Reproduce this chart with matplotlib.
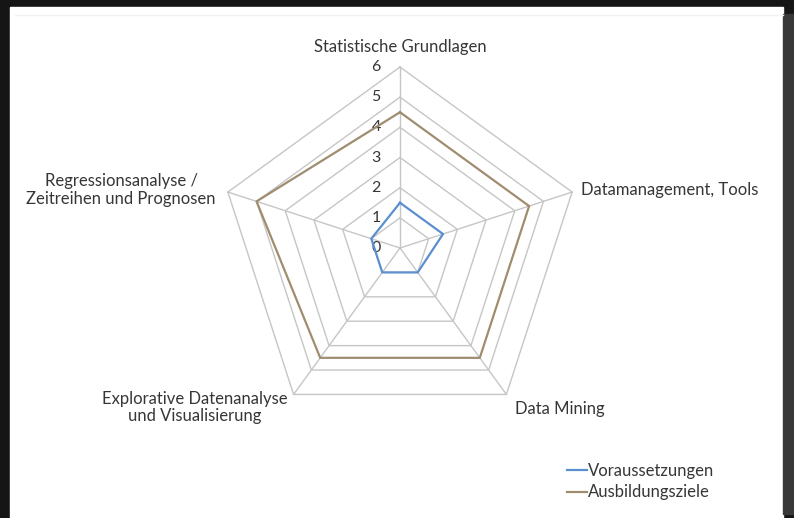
import numpy as np
import matplotlib.pyplot as plt
from matplotlib.patches import Rectangle

categories = ["Statistische Grundlagen", "Datamanagement, Tools", "Data Mining",
              "Explorative Datenanalyse\nund Visualisierung",
              "Regressionsanalyse /\nZeitreihen und Prognosen"]
voraussetzungen = [1.5, 1.5, 1, 1, 1]
ausbildungsziele = [4.5, 4.5, 4.5, 4.5, 5]
rings = [0, 1, 2, 3, 4, 5, 6]

blue = "#5b8fcf"
brown = "#a08d70"
grid = "#c6c6c6"
txt = "#363636"
plt.rcParams['font.family'] = ['Lato', 'DejaVu Sans']

W, H = 794, 518
fig = plt.figure(figsize=(W / 100, H / 100), dpi=100, facecolor="#151515")

# background frame (pixel coords)
bg = fig.add_axes([0, 0, 1, 1])
bg.set_xlim(0, W)
bg.set_ylim(H, 0)
bg.axis("off")
bg.add_patch(Rectangle((10, 7), 773, 511, color="white", zorder=0))
bg.add_patch(Rectangle((783, 14), 11, 500, color="#383838", zorder=0))
bg.plot([15, 783], [15, 15], color="#f2f2f2", lw=1)

# radar axes: center at (400, 248) px, radius 6 -> 181 px
u = 181 / 6
cx, cy = 400, 248
ax = fig.add_axes([0, 0, 1, 1])
ax.set_xlim(-cx / u, (W - cx) / u)
ax.set_ylim(-(H - cy) / u, cy / u)
ax.axis("off")
ax.patch.set_alpha(0)

n = len(categories)
theta = np.arange(n) * 2 * np.pi / n


def xy(vals):
    v = np.asarray(vals, dtype=float)
    x = v * np.sin(theta)
    y = v * np.cos(theta)
    return np.append(x, x[0]), np.append(y, y[0])


for r in rings[1:]:
    x, y = xy([r] * n)
    ax.plot(x, y, color=grid, lw=1, zorder=1)
for t in theta:
    ax.plot([0, rings[-1] * np.sin(t)], [0, rings[-1] * np.cos(t)], color=grid, lw=1, zorder=1)

for r in rings:
    ax.text(-24 / u, r, str(r), ha="center", va="center", fontsize=11.5, color=txt, zorder=3)

x, y = xy(voraussetzungen)
ax.plot(x, y, color=blue, lw=1.6, zorder=4, label="Voraussetzungen")
x, y = xy(ausbildungsziele)
ax.plot(x, y, color=brown, lw=1.6, zorder=4, label="Ausbildungsziele")

fs = 12
R = rings[-1]
ax.text(0, R + 20 / u, categories[0], ha="center", va="center", fontsize=fs, color=txt)
ax.text(R * np.sin(theta[1]) + 9 / u, R * np.cos(theta[1]) + 2 / u, categories[1],
        ha="left", va="center", fontsize=fs, color=txt)
ax.text(R * np.sin(theta[2]) + 9 / u, R * np.cos(theta[2]) - 15 / u, categories[2],
        ha="left", va="center", fontsize=fs, color=txt)
ax.text(R * np.sin(theta[3]) - 6 / u, R * np.cos(theta[3]) - 13 / u, categories[3],
        ha="right", va="center", fontsize=fs, color=txt, multialignment="center",
        linespacing=1.1)
ax.text(R * np.sin(theta[4]) - 12 / u, R * np.cos(theta[4]) + 2 / u, categories[4],
        ha="right", va="center", fontsize=fs, color=txt, multialignment="center",
        linespacing=1.1)

ax.legend(loc="upper left", bbox_to_anchor=(560 / W, 1 - 456 / H), frameon=False,
          fontsize=fs, handlelength=1.2, handletextpad=0.1, labelspacing=0.35,
          borderaxespad=0, labelcolor=txt)

fig.savefig("out.png", dpi=100, facecolor=fig.get_facecolor())
